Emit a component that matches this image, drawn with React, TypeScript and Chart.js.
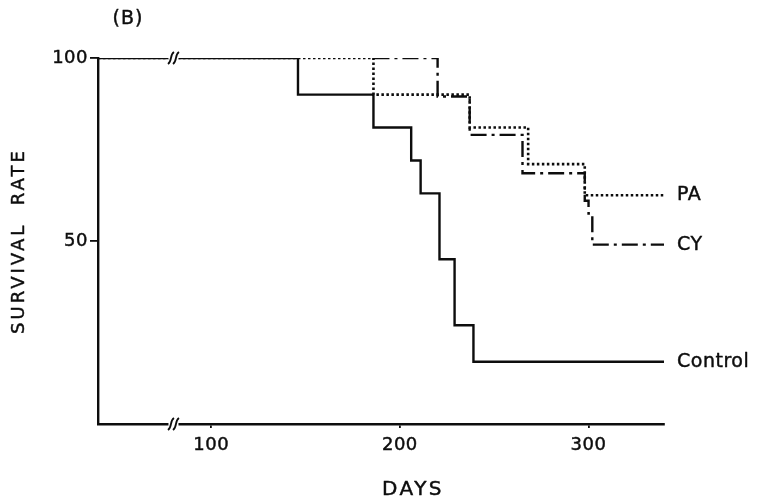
import { useEffect, useRef } from 'react';
import { Chart, registerables } from 'chart.js';

Chart.register(...registerables);

// Survival (%) by day for each group; each entry is the day a step down occurs.
const controlDays = [40, 146, 186, 206, 211, 221, 229, 239, 340];
const controlRate = [100, 90, 81, 72, 63, 45, 27, 17, 17];
const paDays = [40, 186, 237, 268, 298, 340];
const paRate = [100, 90, 81, 71, 62.5, 62.5];
const cyDays = [40, 186, 220, 237, 265, 298, 300, 302, 340];
const cyRate = [100, 100, 89.5, 79, 68.5, 61, 57.5, 49, 49];

const seriesNames = ['Control', 'PA', 'CY'];
const xTickValues = [100, 200, 300];
const yTickValues = [50, 100];
const axisBreakDay = 80;

const INK = '#0d0d0d';
const FONT = '"DejaVu Sans", Verdana, sans-serif';
const TEXT_STROKE = 0.45;

const toPoints = (days: number[], rates: number[]) =>
  days.map((d, i) => ({ x: d, y: rates[i] }));

function drawBreak(ctx: CanvasRenderingContext2D, cx: number, cy: number) {
  ctx.save();
  ctx.fillStyle = '#ffffff';
  ctx.fillRect(cx - 5, cy - 3, 10, 6);
  ctx.strokeStyle = INK;
  ctx.lineWidth = 1.8;
  for (const dx of [-2.5, 2.5]) {
    ctx.beginPath();
    ctx.moveTo(cx + dx - 3, cy + 6);
    ctx.bezierCurveTo(cx + dx + 1.5, cy + 3, cx + dx - 1.5, cy - 3, cx + dx + 3, cy - 6);
    ctx.stroke();
  }
  ctx.restore();
}

function boldText(ctx: CanvasRenderingContext2D, text: string, x: number, y: number) {
  ctx.fillText(text, x, y);
  ctx.strokeText(text, x, y);
}

const spacingPlugin = {
  id: 'letterSpacing',
  beforeDraw(chart: any) {
    (chart.ctx as any).letterSpacing = '0.5px';
  },
  afterDraw(chart: any) {
    (chart.ctx as any).letterSpacing = '0px';
  },
};

const decorPlugin = {
  id: 'decor',
  afterDatasetsDraw(chart: any) {
    const { ctx, scales } = chart;
    const xs = scales.x;
    const ys = scales.y;
    const bx = xs.getPixelForValue(axisBreakDay);
    drawBreak(ctx, bx, ys.getPixelForValue(100));
    drawBreak(ctx, bx, ys.getPixelForValue(0));
  },
  afterDraw(chart: any) {
    const { ctx, scales } = chart;
    const xs = scales.x;
    const ys = scales.y;
    ctx.save();
    ctx.fillStyle = INK;
    ctx.strokeStyle = INK;
    ctx.lineWidth = TEXT_STROKE;
    ctx.lineJoin = 'round';

    // group names at the right end of each curve
    ctx.font = `19px ${FONT}`;
    ctx.letterSpacing = '0.5px';
    ctx.textAlign = 'left';
    ctx.textBaseline = 'middle';
    chart.data.datasets.forEach((ds: any) => {
      const last = ds.data[ds.data.length - 1];
      boldText(ctx, ds.label, xs.getPixelForValue(last.x) + 13, ys.getPixelForValue(last.y));
    });

    // panel tag
    ctx.font = `19px ${FONT}`;
    ctx.letterSpacing = '1px';
    ctx.textAlign = 'center';
    boldText(ctx, '(B)', 128, 19);

    // x axis title
    ctx.font = `20px ${FONT}`;
    ctx.letterSpacing = '2.5px';
    boldText(ctx, 'DAYS', 413, 490);

    // y axis title
    ctx.translate(19, (chart.chartArea.top + chart.chartArea.bottom) / 2);
    ctx.rotate(-Math.PI / 2);
    ctx.font = `18px ${FONT}`;
    ctx.letterSpacing = '3px';
    boldText(ctx, 'SURVIVAL  RATE', 0, 0);
    ctx.restore();
  },
};

export default function App() {
  const canvasRef = useRef<HTMLCanvasElement | null>(null);

  useEffect(() => {
    const canvas = canvasRef.current;
    if (!canvas) return;
    const common = {
      borderColor: INK,
      borderWidth: 2.4,
      stepped: true,
      pointRadius: 0,
      fill: false,
    };
    // where CY still runs along 100% together with PA, PA's dotted trace is the one shown
    const paFirstDrop = paDays[1];
    const chart = new Chart(canvas, {
      type: 'line',
      data: {
        datasets: [
          { ...common, label: seriesNames[0], data: toPoints(controlDays, controlRate) },
          { ...common, label: seriesNames[1], data: toPoints(paDays, paRate), borderDash: [2.5, 2.5], borderWidth: 2.6 },
          {
            ...common,
            label: seriesNames[2],
            data: toPoints(cyDays, cyRate),
            borderDash: [16, 5, 3, 5],
            segment: {
              borderColor: (c: any) => (c.p1.parsed.x <= paFirstDrop ? 'rgba(0,0,0,0)' : undefined),
            },
          },
        ],
      },
      options: {
        responsive: false,
        animation: false,
        events: [],
        layout: { padding: { left: 0, top: 58, right: 94, bottom: 0 } },
        plugins: {
          legend: { display: false },
          tooltip: { enabled: false },
        },
        scales: {
          x: {
            type: 'linear',
            min: 40,
            max: 340,
            afterBuildTicks: (s: any) => {
              s.ticks = xTickValues.map((v) => ({ value: v }));
            },
            afterFit: (s: any) => {
              s.height = 80;
            },
            grid: { drawOnChartArea: false, drawTicks: true, tickLength: 4, color: INK, lineWidth: 1.8 },
            border: { display: true, color: INK, width: 2.4 },
            ticks: {
              color: INK,
              font: { family: FONT, size: 18 },
              padding: 7,
              maxRotation: 0,
              textStrokeColor: INK,
              textStrokeWidth: TEXT_STROKE,
            },
          },
          y: {
            type: 'linear',
            min: 0,
            max: 100,
            afterBuildTicks: (s: any) => {
              s.ticks = yTickValues.map((v) => ({ value: v }));
            },
            afterFit: (s: any) => {
              s.width = 98;
            },
            grid: { drawOnChartArea: false, drawTicks: true, tickLength: 8, color: INK, lineWidth: 1.8 },
            border: { display: true, color: INK, width: 2.4 },
            ticks: {
              color: INK,
              font: { family: FONT, size: 18 },
              padding: 2,
              textStrokeColor: INK,
              textStrokeWidth: TEXT_STROKE,
            },
          },
        },
      },
      plugins: [spacingPlugin, decorPlugin],
    } as any);
    return () => chart.destroy();
  }, []);

  return (
    <div style={{ position: 'fixed', left: 0, top: 0, width: 758, height: 504, background: '#fff' }}>
      <canvas ref={canvasRef} width={758} height={504} style={{ display: 'block' }} />
    </div>
  );
}
